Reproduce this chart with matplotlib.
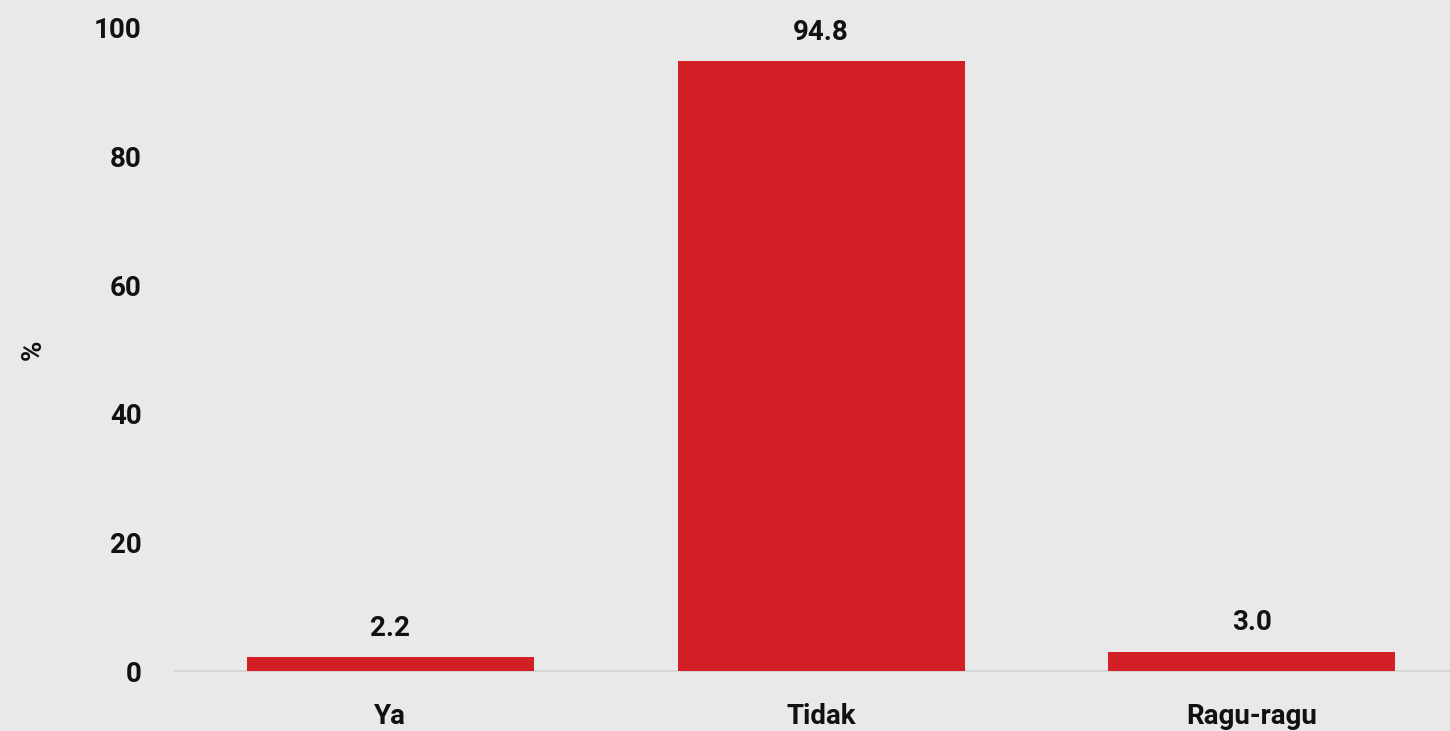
import matplotlib.pyplot as plt
import numpy as np

kategori = ['Ya', 'Tidak', 'Ragu-ragu']
persen = [2.2, 94.8, 3.0]
label_persen = ['2.2', '94.8', '3.0']
yticks = [0, 20, 40, 60, 80, 100]

plt.rcParams['font.family'] = ['Roboto', 'DejaVu Sans']

bg = '#e9e9e9'
merah = '#d31f26'
teks_warna = '#111111'
ukuran = 20

fig = plt.figure(figsize=(14.5, 7.31), dpi=100, facecolor=bg)
ax = fig.add_axes([175 / 1450, 60 / 731, 1 - 175 / 1450, 643 / 731])
ax.set_facecolor(bg)

x = np.arange(len(kategori))
bars = ax.bar(x, persen, width=0.666, color=merah, zorder=3)

# angka di atas tiap batang
for b, teks in zip(bars, label_persen):
    ax.annotate(teks, (b.get_x() + b.get_width() / 2, b.get_height()),
                xytext=(0, 11), textcoords='offset points',
                ha='center', va='bottom', fontsize=ukuran, fontweight='bold',
                color=teks_warna)

ax.set_xlim(-0.5, 2.46)
ax.set_ylim(0, 100)
ax.set_xticks(x)
ax.set_xticklabels(kategori)
ax.set_yticks(yticks)
ax.tick_params(axis='both', length=0, labelsize=ukuran, colors=teks_warna)
ax.tick_params(axis='x', pad=23)
ax.tick_params(axis='y', pad=24)
for lbl in ax.get_xticklabels() + ax.get_yticklabels():
    lbl.set_fontweight('bold')

ax.set_ylabel('%', fontsize=ukuran, fontweight='bold', color=teks_warna, labelpad=34)

for s in ['top', 'right', 'left']:
    ax.spines[s].set_visible(False)
ax.spines['bottom'].set_color('#d6d6d6')
ax.spines['bottom'].set_linewidth(1.5)

fig.savefig('out.png', dpi=100, facecolor=bg)
